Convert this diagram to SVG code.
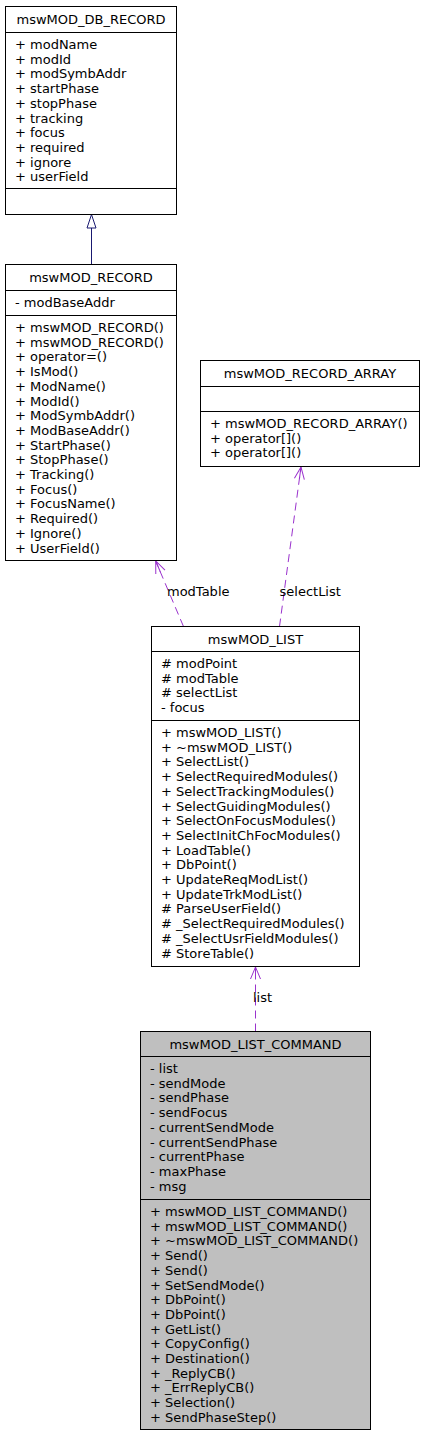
<svg xmlns="http://www.w3.org/2000/svg" width="424" height="1435" viewBox="0 0 424 1435">
<style>
  text { font-family: "DejaVu Sans", "Liberation Sans", sans-serif; font-size: 13px; fill: #000; }
  .t { text-anchor: middle; }
  .box { fill: #ffffff; stroke: #000000; stroke-width: 1; }
  .cur { fill: #bfbfbf; stroke: #000000; stroke-width: 1; }
  .div { stroke: #000000; stroke-width: 1; }
  .use { fill: none; stroke: #9a32cd; stroke-width: 1; stroke-dasharray: 8,5; }
  .inh { fill: none; stroke: #191970; stroke-width: 1; }
</style>
<defs>
  <marker id="vee" markerUnits="userSpaceOnUse" viewBox="-13 -7 14 14" refX="0" refY="0" markerWidth="14" markerHeight="14" orient="auto">
    <path d="M-12,-5 L0,0 L-12,5 M-12,0 L0,0" fill="none" stroke="#9a32cd" stroke-width="1" stroke-dasharray="none"/>
  </marker>
</defs>

<g id="connectors">
  <g id="edge-inherit">
    <line class="inh" x1="91.5" y1="264.5" x2="91.5" y2="228"/>
    <polygon class="inh" points="91.5,214.5 87,228 96,228" fill="#ffffff"/>
  </g>
  <g id="edge-modTable">
    <path class="use" d="M183.5,626.5 L155.7,561" marker-end="url(#vee)"/>
    <text x="167" y="596">modTable</text>
  </g>
  <g id="edge-selectList">
    <path class="use" d="M279.5,626.5 L301,467" marker-end="url(#vee)"/>
    <text x="279.5" y="596">selectList</text>
  </g>
  <g id="edge-list">
    <path class="use" d="M255.5,1031.5 L255.5,967" marker-end="url(#vee)"/>
    <text x="253" y="1002">list</text>
  </g>
</g>

<g id="mswMOD_DB_RECORD">
  <rect class="box" x="5.5" y="6.5" width="171" height="208"/>
  <line class="div" x1="5.5" y1="32.5" x2="176.5" y2="32.5"/>
  <line class="div" x1="5.5" y1="188.5" x2="176.5" y2="188.5"/>
  <text class="t" x="91" y="24">mswMOD_DB_RECORD</text>
  <text x="15" y="49">
    <tspan x="15">+ modName</tspan>
    <tspan x="15" dy="14.7">+ modId</tspan>
    <tspan x="15" dy="14.7">+ modSymbAddr</tspan>
    <tspan x="15" dy="14.7">+ startPhase</tspan>
    <tspan x="15" dy="14.7">+ stopPhase</tspan>
    <tspan x="15" dy="14.7">+ tracking</tspan>
    <tspan x="15" dy="14.7">+ focus</tspan>
    <tspan x="15" dy="14.7">+ required</tspan>
    <tspan x="15" dy="14.7">+ ignore</tspan>
    <tspan x="15" dy="14.7">+ userField</tspan>
  </text>
</g>

<g id="mswMOD_RECORD">
  <rect class="box" x="5.5" y="264.5" width="171" height="296"/>
  <line class="div" x1="5.5" y1="290.5" x2="176.5" y2="290.5"/>
  <line class="div" x1="5.5" y1="315.5" x2="176.5" y2="315.5"/>
  <text class="t" x="91" y="282">mswMOD_RECORD</text>
  <text x="15" y="307">- modBaseAddr</text>
  <text x="15" y="332">
    <tspan x="15">+ mswMOD_RECORD()</tspan>
    <tspan x="15" dy="14.7">+ mswMOD_RECORD()</tspan>
    <tspan x="15" dy="14.7">+ operator=()</tspan>
    <tspan x="15" dy="14.7">+ IsMod()</tspan>
    <tspan x="15" dy="14.7">+ ModName()</tspan>
    <tspan x="15" dy="14.7">+ ModId()</tspan>
    <tspan x="15" dy="14.7">+ ModSymbAddr()</tspan>
    <tspan x="15" dy="14.7">+ ModBaseAddr()</tspan>
    <tspan x="15" dy="14.7">+ StartPhase()</tspan>
    <tspan x="15" dy="14.7">+ StopPhase()</tspan>
    <tspan x="15" dy="14.7">+ Tracking()</tspan>
    <tspan x="15" dy="14.7">+ Focus()</tspan>
    <tspan x="15" dy="14.7">+ FocusName()</tspan>
    <tspan x="15" dy="14.7">+ Required()</tspan>
    <tspan x="15" dy="14.7">+ Ignore()</tspan>
    <tspan x="15" dy="14.7">+ UserField()</tspan>
  </text>
</g>

<g id="mswMOD_RECORD_ARRAY">
  <rect class="box" x="200.5" y="360.5" width="219" height="106"/>
  <line class="div" x1="200.5" y1="386.5" x2="419.5" y2="386.5"/>
  <line class="div" x1="200.5" y1="411.5" x2="419.5" y2="411.5"/>
  <text class="t" x="310" y="378">mswMOD_RECORD_ARRAY</text>
  <text x="210" y="428">
    <tspan x="210">+ mswMOD_RECORD_ARRAY()</tspan>
    <tspan x="210" dy="14.7">+ operator[]()</tspan>
    <tspan x="210" dy="14.7">+ operator[]()</tspan>
  </text>
</g>

<g id="mswMOD_LIST">
  <rect class="box" x="151.5" y="626.5" width="208" height="340"/>
  <line class="div" x1="151.5" y1="651.5" x2="359.5" y2="651.5"/>
  <line class="div" x1="151.5" y1="720.5" x2="359.5" y2="720.5"/>
  <text class="t" x="255.5" y="644">mswMOD_LIST</text>
  <text x="161" y="668">
    <tspan x="161"># modPoint</tspan>
    <tspan x="161" dy="14.7"># modTable</tspan>
    <tspan x="161" dy="14.7"># selectList</tspan>
    <tspan x="161" dy="14.7">- focus</tspan>
  </text>
  <text x="161" y="737">
    <tspan x="161">+ mswMOD_LIST()</tspan>
    <tspan x="161" dy="14.7">+ ~mswMOD_LIST()</tspan>
    <tspan x="161" dy="14.7">+ SelectList()</tspan>
    <tspan x="161" dy="14.7">+ SelectRequiredModules()</tspan>
    <tspan x="161" dy="14.7">+ SelectTrackingModules()</tspan>
    <tspan x="161" dy="14.7">+ SelectGuidingModules()</tspan>
    <tspan x="161" dy="14.7">+ SelectOnFocusModules()</tspan>
    <tspan x="161" dy="14.7">+ SelectInitChFocModules()</tspan>
    <tspan x="161" dy="14.7">+ LoadTable()</tspan>
    <tspan x="161" dy="14.7">+ DbPoint()</tspan>
    <tspan x="161" dy="14.7">+ UpdateReqModList()</tspan>
    <tspan x="161" dy="14.7">+ UpdateTrkModList()</tspan>
    <tspan x="161" dy="14.7"># ParseUserField()</tspan>
    <tspan x="161" dy="14.7"># _SelectRequiredModules()</tspan>
    <tspan x="161" dy="14.7"># _SelectUsrFieldModules()</tspan>
    <tspan x="161" dy="14.7"># StoreTable()</tspan>
  </text>
</g>

<g id="mswMOD_LIST_COMMAND">
  <rect class="cur" x="140.5" y="1031.5" width="230" height="398"/>
  <line class="div" x1="140.5" y1="1056.5" x2="370.5" y2="1056.5"/>
  <line class="div" x1="140.5" y1="1199.5" x2="370.5" y2="1199.5"/>
  <text class="t" x="255.5" y="1049">mswMOD_LIST_COMMAND</text>
  <text x="150" y="1073">
    <tspan x="150">- list</tspan>
    <tspan x="150" dy="14.7">- sendMode</tspan>
    <tspan x="150" dy="14.7">- sendPhase</tspan>
    <tspan x="150" dy="14.7">- sendFocus</tspan>
    <tspan x="150" dy="14.7">- currentSendMode</tspan>
    <tspan x="150" dy="14.7">- currentSendPhase</tspan>
    <tspan x="150" dy="14.7">- currentPhase</tspan>
    <tspan x="150" dy="14.7">- maxPhase</tspan>
    <tspan x="150" dy="14.7">- msg</tspan>
  </text>
  <text x="150" y="1216">
    <tspan x="150">+ mswMOD_LIST_COMMAND()</tspan>
    <tspan x="150" dy="14.7">+ mswMOD_LIST_COMMAND()</tspan>
    <tspan x="150" dy="14.7">+ ~mswMOD_LIST_COMMAND()</tspan>
    <tspan x="150" dy="14.7">+ Send()</tspan>
    <tspan x="150" dy="14.7">+ Send()</tspan>
    <tspan x="150" dy="14.7">+ SetSendMode()</tspan>
    <tspan x="150" dy="14.7">+ DbPoint()</tspan>
    <tspan x="150" dy="14.7">+ DbPoint()</tspan>
    <tspan x="150" dy="14.7">+ GetList()</tspan>
    <tspan x="150" dy="14.7">+ CopyConfig()</tspan>
    <tspan x="150" dy="14.7">+ Destination()</tspan>
    <tspan x="150" dy="14.7">+ _ReplyCB()</tspan>
    <tspan x="150" dy="14.7">+ _ErrReplyCB()</tspan>
    <tspan x="150" dy="14.7">+ Selection()</tspan>
    <tspan x="150" dy="14.7">+ SendPhaseStep()</tspan>
  </text>
</g>
</svg>
